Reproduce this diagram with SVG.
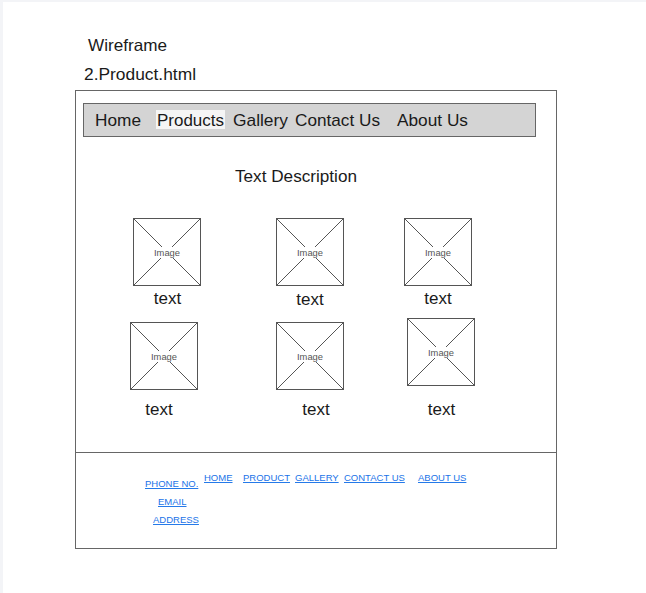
<svg xmlns="http://www.w3.org/2000/svg" width="646" height="593" viewBox="0 0 646 593">
  <style>
    .t { font-family: "Liberation Sans", Arial, sans-serif; fill: #1a1a1a; }
    .nav { font-size: 17px; }
    .lbl { font-size: 17px; text-anchor: middle; }
    .img { fill: #fff; stroke: #555; stroke-width: 1; }
    .x { stroke: #555; stroke-width: 1; }
    .cap { font-family: "Liberation Sans", Arial, sans-serif; font-size: 8.5px; fill: #555; text-anchor: middle; }
    .link { font-family: "Liberation Sans", Arial, sans-serif; font-size: 9.5px; fill: #1a73e8; text-decoration: underline; }
  </style>
  <defs>
    <g id="ph">
      <rect class="img" x="0" y="0" width="67" height="67"/>
      <line class="x" x1="0" y1="0" x2="67" y2="67"/>
      <line class="x" x1="67" y1="0" x2="0" y2="67"/>
      <rect x="19.5" y="28.5" width="28" height="11" fill="#fff"/>
      <text class="cap" x="33.5" y="37" textLength="26" lengthAdjust="spacingAndGlyphs">Image</text>
    </g>
  </defs>

  <rect width="646" height="593" fill="#fff"/>
  <rect x="0" y="0" width="646" height="2" fill="#f3f4f7"/>
  <rect x="0" y="0" width="3" height="593" fill="#f3f4f7"/>

  <text class="t" x="88" y="51" font-size="16.5" textLength="79" lengthAdjust="spacingAndGlyphs">Wireframe</text>
  <text class="t" x="84" y="80" font-size="16.5" textLength="112" lengthAdjust="spacingAndGlyphs">2.Product.html</text>

  <!-- page frame and footer divider -->
  <g id="frame">
    <rect x="75.5" y="90.5" width="481" height="458" fill="#fff" stroke="#666" stroke-width="1"/>
    <line x1="75.5" y1="452.5" x2="556.5" y2="452.5" stroke="#666" stroke-width="1"/>
  </g>

  <!-- navigation bar -->
  <g id="navbar">
    <rect x="83.5" y="103.5" width="452" height="33" fill="#d4d4d4" stroke="#666" stroke-width="1"/>
    <rect x="156" y="110" width="69" height="19" fill="#f5f5f5"/>
    <text class="t nav" x="95" y="126" textLength="46" lengthAdjust="spacingAndGlyphs">Home</text>
    <text class="t nav" x="157" y="126" textLength="67" lengthAdjust="spacingAndGlyphs">Products</text>
    <text class="t nav" x="233" y="126" textLength="55" lengthAdjust="spacingAndGlyphs">Gallery</text>
    <text class="t nav" x="295" y="126" textLength="85" lengthAdjust="spacingAndGlyphs">Contact Us</text>
    <text class="t nav" x="397" y="126" textLength="71" lengthAdjust="spacingAndGlyphs">About Us</text>
  </g>

  <text class="t" x="235" y="182" font-size="17" textLength="122" lengthAdjust="spacingAndGlyphs">Text Description</text>

  <!-- product grid -->
  <g id="p1"><use href="#ph" x="133.5" y="218.5"/><text class="t lbl" x="167.5" y="304">text</text></g>
  <g id="p2"><use href="#ph" x="276.5" y="218.5"/><text class="t lbl" x="310" y="305">text</text></g>
  <g id="p3"><use href="#ph" x="404.5" y="218.5"/><text class="t lbl" x="438" y="304">text</text></g>
  <g id="p4"><use href="#ph" x="130.5" y="322.5"/><text class="t lbl" x="159" y="415">text</text></g>
  <g id="p5"><use href="#ph" x="276.5" y="322.5"/><text class="t lbl" x="316" y="415">text</text></g>
  <g id="p6"><use href="#ph" x="407.5" y="318.5"/><text class="t lbl" x="441.5" y="415">text</text></g>

  <!-- footer links -->
  <g id="footer">
    <text class="link" x="145" y="487">PHONE NO.</text>
    <text class="link" x="158" y="505">EMAIL</text>
    <text class="link" x="153" y="523">ADDRESS</text>
    <text class="link" x="204" y="481">HOME</text>
    <text class="link" x="243" y="481">PRODUCT</text>
    <text class="link" x="295" y="481">GALLERY</text>
    <text class="link" x="344" y="481">CONTACT US</text>
    <text class="link" x="418" y="481">ABOUT US</text>
  </g>
</svg>
